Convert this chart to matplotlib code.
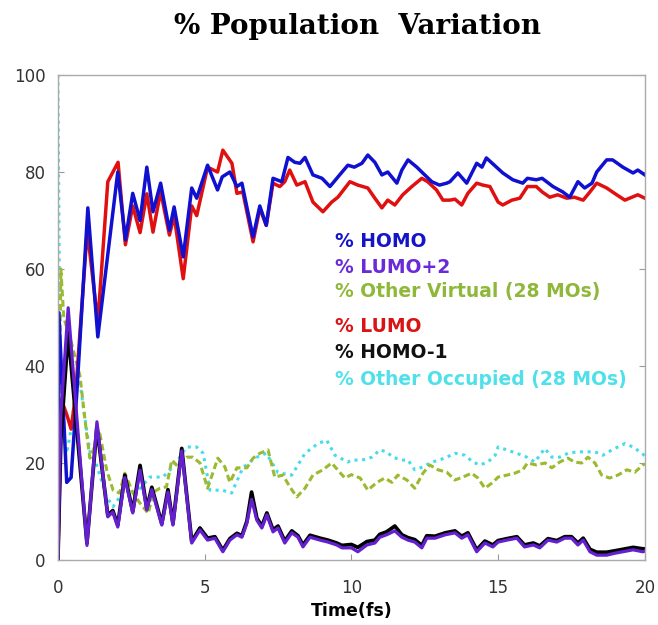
import matplotlib.pyplot as plt
import numpy as np

# ---- data (time in fs, population in %) ----
t_homo = [0, 0.03, 0.3, 0.45, 0.65, 1.02, 1.36, 2.04, 2.3, 2.55, 2.8, 3.03, 3.24, 3.5, 3.8, 3.96,
          4.27, 4.56, 4.73, 5.1, 5.44, 5.6, 5.86, 6.1, 6.27, 6.65, 6.88, 7.1, 7.33, 7.63, 7.84,
          8.07, 8.25, 8.42, 8.69, 9.0, 9.27, 9.6, 9.88, 10.1, 10.36, 10.56, 10.8, 11.04, 11.24,
          11.55, 11.72, 11.93, 12.23, 12.5, 12.74, 13.0, 13.25, 13.36, 13.63, 13.93, 14.27, 14.45,
          14.6, 14.8, 15.16, 15.5, 15.84, 16.0, 16.3, 16.5, 16.87, 17.2, 17.44, 17.72, 17.95, 18.2,
          18.36, 18.7, 18.9, 19.25, 19.6, 19.76, 20.0]
homo = [0, 51, 16, 17, 35, 72.6, 46, 80, 66, 75.6, 70, 81, 71.8, 77.7, 68, 72.8,
        62.5, 76.7, 74.6, 81.4, 76.3, 79, 80, 77, 77.7, 66.6, 73, 69, 78.7, 78, 83,
        82, 81.8, 83, 79.4, 78.7, 77, 79.4, 81.4, 81, 81.8, 83.5, 82, 79.4, 80,
        77.7, 80.4, 82.5, 81, 79.4, 78, 77.3, 77.7, 78, 79.8, 77.7, 81.8, 81,
        82.9, 81.8, 79.8, 78.4, 77.7, 78.7, 78.4, 78.7, 77, 75.9, 74.8, 78, 76.7, 77.7,
        80, 82.5, 82.5, 81, 79.8, 80.4, 79.4]

t_lumo = [0, 0.12, 0.3, 0.45, 0.6, 1.0, 1.36, 1.7, 2.05, 2.3, 2.55, 2.8, 3.03, 3.24, 3.5, 3.8,
          3.96, 4.27, 4.56, 4.73, 5.1, 5.44, 5.62, 5.93, 6.1, 6.3, 6.65, 6.88, 7.1, 7.33, 7.56,
          7.73, 7.9, 8.14, 8.42, 8.69, 9.03, 9.33, 9.54, 9.95, 10.22, 10.56, 10.8, 11.04, 11.24,
          11.48, 11.75, 12.06, 12.4, 12.6, 12.9, 13.12, 13.36, 13.53, 13.76, 13.97, 14.27, 14.48,
          14.72, 15.0, 15.16, 15.47, 15.74, 16.0, 16.3, 16.5, 16.76, 17.03, 17.34, 17.6, 17.9,
          18.13, 18.36, 18.7, 19.04, 19.32, 19.56, 19.76, 20.0]
lumo = [0, 33, 30, 27, 34, 68, 49, 78, 82, 65, 73, 67.5, 75.5, 67.6, 76, 67,
        71, 58, 73, 71, 81, 80, 84.5, 81.8, 75.6, 75.9, 65.6, 72.5, 69, 77.7, 77,
        78, 80.4, 77.3, 78, 73.8, 71.8, 73.8, 74.8, 78, 77.3, 76.7, 74.6, 72.6, 74.2,
        73.2, 75.3, 77, 78.7, 78, 76.3, 74.2, 74.2, 74.4, 73.2, 75.6, 77.7, 77.3,
        77, 73.8, 73.2, 74.2, 74.6, 77, 77, 75.9, 74.8, 75.3, 74.6, 74.8, 74.2,
        75.9, 77.7, 76.7, 75.3, 74.2, 74.8, 75.3, 74.6]

t_low = [0, 0.1, 0.35, 0.99, 1.33, 1.7, 1.87, 2.04, 2.28, 2.55, 2.8, 3.03, 3.2, 3.54, 3.75, 3.92,
         4.22, 4.56, 4.84, 5.1, 5.35, 5.62, 5.86, 6.1, 6.27, 6.44, 6.6, 6.78, 6.95, 7.12, 7.33,
         7.5, 7.73, 7.97, 8.18, 8.35, 8.59, 8.93, 9.2, 9.5, 9.68, 10.0, 10.22, 10.53, 10.8,
         10.97, 11.2, 11.48, 11.72, 11.93, 12.16, 12.4, 12.57, 12.85, 13.2, 13.53, 13.76, 13.97,
         14.27, 14.55, 14.82, 15.0, 15.3, 15.64, 15.9, 16.2, 16.42, 16.7, 17.0, 17.27, 17.5,
         17.72, 17.9, 18.13, 18.36, 18.7, 18.98, 19.25, 19.6, 19.93, 20.0]
lumo_p2 = [0, 30, 52, 3, 28.5, 8.9, 9.9, 6.8, 17, 9.7, 18.5, 10.3, 14.5, 7.2, 14, 7.2,
           22.5, 3.5, 6.2, 4.1, 4.5, 1.7, 4.1, 5.2, 4.7, 7.6, 12.5, 8.2, 6.6, 9.3, 5.8,
           6.6, 3.5, 5.6, 4.7, 2.7, 4.7, 4.1, 3.7, 3.1, 2.5, 2.5, 1.7, 3.1, 3.5,
           4.7, 5.2, 6.0, 4.7, 4.1, 3.7, 2.5, 4.5, 4.5, 5.2, 5.6, 4.5, 5.2,
           1.7, 3.5, 2.7, 3.7, 4.1, 4.5, 2.7, 3.1, 2.5, 4.1, 3.7, 4.5, 4.5,
           3.1, 4.1, 1.7, 1.0, 1.0, 1.4, 1.7, 2.1, 1.7, 1.8]
homo_m1 = [0, 25, 47, 3.5, 27.5, 9.2, 10.2, 7.2, 17.5, 10.0, 19.5, 10.6, 15, 7.5, 14.5, 7.5,
           23, 3.8, 6.6, 4.5, 4.8, 2.0, 4.4, 5.5, 5.0, 8.0, 14, 8.6, 7.0, 9.7, 6.2,
           7.0, 3.9, 6.0, 5.0, 3.1, 5.1, 4.5, 4.1, 3.5, 3.0, 3.2, 2.6, 3.8, 4.1,
           5.3, 5.8, 7.0, 5.2, 4.6, 4.2, 3.0, 5.0, 4.9, 5.6, 6.0, 4.9, 5.6,
           2.1, 3.9, 3.1, 4.0, 4.4, 4.8, 3.1, 3.5, 2.9, 4.4, 4.0, 4.8, 4.8,
           3.5, 4.5, 2.2, 1.6, 1.6, 1.9, 2.2, 2.6, 2.3, 2.3]

t_virt = [0, 0.1, 0.2, 0.45, 0.75, 0.98, 1.09, 1.43, 1.66, 1.88, 2.1, 2.28, 2.56, 2.8, 3.08,
          3.25, 3.48, 3.7, 3.88, 4.1, 4.39, 4.6, 4.84, 5.1, 5.45, 5.69, 5.86, 6.1, 6.44, 6.65,
          6.88, 7.16, 7.39, 7.67, 7.9, 8.14, 8.42, 8.69, 9.03, 9.33, 9.6, 9.78, 10.0, 10.3,
          10.56, 10.87, 11.14, 11.38, 11.58, 11.89, 12.16, 12.44, 12.67, 12.95, 13.25, 13.53,
          13.8, 14.1, 14.31, 14.55, 14.82, 15.0, 15.3, 15.57, 15.84, 16.0, 16.3, 16.6, 16.83,
          17.1, 17.38, 17.6, 17.85, 18.06, 18.3, 18.53, 18.8, 19.08, 19.39, 19.66, 19.93, 20.0]
other_virt = [0, 60, 50, 45, 38, 26, 21, 26, 18.6, 14.4, 13.8, 17.9, 13.8, 11.7, 9.6,
              14, 14.8, 15.1, 20.6, 19.2, 21.2, 21.2, 20, 14.8, 21, 19.2, 16, 19, 19, 21,
              22, 22.7, 17.1, 17.5, 15.1, 13, 14.8, 17.5, 18.6, 20, 18.1, 16.9, 17.6, 16.9,
              14.4, 16, 16.9, 16, 17.5, 16.5, 14.8, 17.9, 19.6, 18.6, 18.1, 16.5,
              17.1, 17.9, 16.9, 14.8, 16, 17.1, 17.5, 17.9, 18.6, 20, 19.6, 20, 19,
              20.2, 21, 20.2, 20, 21.2, 20, 17.5, 16.9, 17.5, 18.6, 18.1, 19.6, 19.8]

t_occ = [0, 0.08, 0.3, 0.45, 0.7, 0.9, 1.1, 1.3, 1.66, 1.88, 2.2, 2.56, 3.13, 3.58, 3.92,
         4.39, 4.73, 4.95, 5.18, 5.4, 5.6, 5.92, 6.3, 6.7, 7.1, 7.5, 7.97, 8.42, 8.86, 9.16,
         9.44, 9.88, 10.0, 10.36, 10.7, 10.97, 11.2, 11.41, 11.72, 11.93, 12.16, 12.44, 12.74,
         13.0, 13.25, 13.53, 13.87, 14.14, 14.38, 14.65, 14.9, 15.0, 15.3, 15.64, 15.98, 16.25,
         16.59, 16.83, 17.1, 17.38, 17.68, 18.02, 18.3, 18.57, 18.88, 19.08, 19.32, 19.6,
         19.83, 20.0]
other_occ = [100, 30, 22, 27, 39, 30, 22, 20, 13, 11, 13.8, 13, 17.1, 17.1, 19.2,
             23.3, 23.3, 22, 14.4, 14.4, 14.4, 13.8, 19, 21, 22, 18, 17.5, 22, 24, 24.7,
             21.6, 20.2, 20.6, 20.6, 21.2, 22.7, 22.3, 21.2, 20.6, 20.6, 18.6, 19.2, 20.2,
             20.6, 21.2, 22, 21.6, 20.2, 19.6, 20.2, 21.6, 23.3, 22.7, 22, 21.2, 20.2,
             23, 21.2, 21.2, 22, 22.3, 22.3, 22.3, 21.6, 22.7, 23.3, 24, 23.3,
             22.3, 21.5]

labels = ["% HOMO", "% LUMO+2", "% Other Virtual (28 MOs)",
          "% LUMO", "% HOMO-1", "% Other Occupied (28 MOs)"]
label_colors = ["#1414c8", "#6a2ad8", "#8fb83a", "#d81414", "#111111", "#4fe0ea"]

fig = plt.figure(figsize=(6.58, 6.25), dpi=100)
ax = fig.add_axes([0.088, 0.104, 0.892, 0.776])

ax.plot(t_occ, other_occ, color="#44dcea", lw=2.2, ls=(0, (1, 1.5)))
ax.plot(t_virt, other_virt, color="#9cba30", lw=2.2, ls=(0, (2.2, 1.2)))
ax.plot(t_lumo, lumo, color="#e01010", lw=2.5)
ax.plot(t_homo, homo, color="#1010d0", lw=2.5)
ax.plot(t_low, homo_m1, color="#000000", lw=2.7)
ax.plot(t_low, lumo_p2, color="#6420d0", lw=2.3)

ax.set_xlim(0, 20)
ax.set_ylim(0, 100)
ax.set_xticks([0, 5, 10, 15, 20])
ax.set_yticks([0, 20, 40, 60, 80, 100])
ax.tick_params(direction="in", length=4, color="#999999", labelsize=12,
               labelcolor="#333333", right=True, top=False)
ax.tick_params(axis="x", pad=14)
ax.tick_params(axis="y", pad=9)
for s in ax.spines.values():
    s.set_color("#aaaaaa")
    s.set_linewidth(1.0)

ax.set_xlabel("Time(fs)", fontsize=12.5, fontweight="bold", labelpad=3)

# coloured text legend, two groups
ypos = [0.656, 0.604, 0.553, 0.481, 0.427, 0.373]
for lab, col, y in zip(labels, label_colors, ypos):
    ax.text(0.472, y, lab, transform=ax.transAxes, color=col, fontsize=13.5,
            fontweight="bold", va="center", ha="left")

fig.text(0.543, 0.957, "% Population  Variation", ha="center", va="center",
         fontsize=20, fontweight="bold", family="DejaVu Serif")

fig.savefig("out.png", dpi=100)
